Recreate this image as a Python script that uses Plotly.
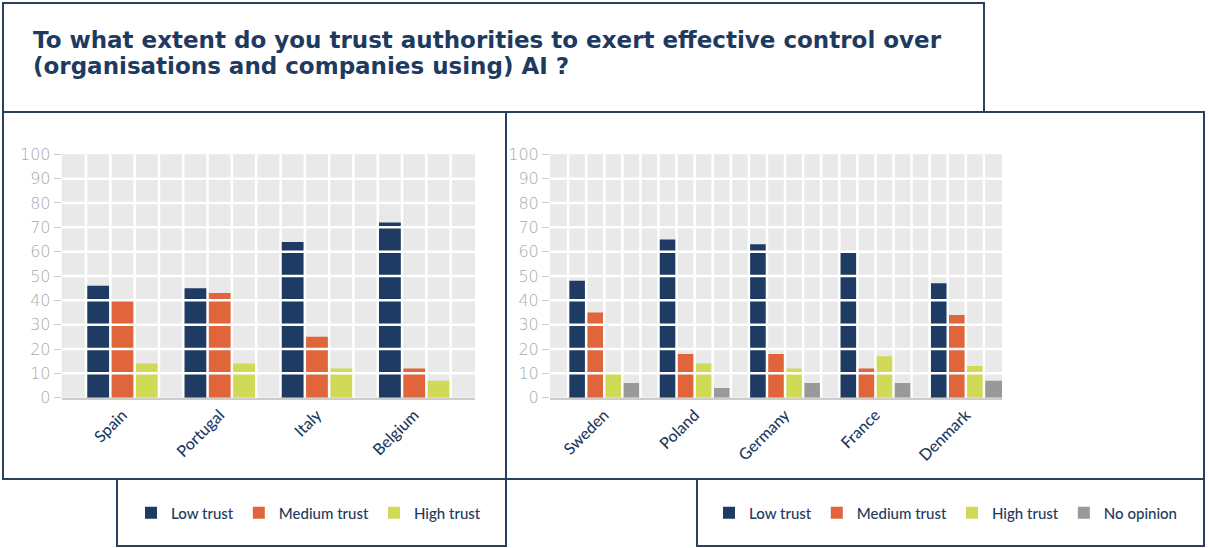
import plotly.graph_objects as go

W, H = 1209, 548

title_lines = [
    "To what extent do you trust authorities to exert effective control over",
    "(organisations and companies using) AI ?",
]

left_countries = ["Spain", "Portugal", "Italy", "Belgium"]
left_low = [46, 45, 64, 72]
left_medium = [40, 43, 25, 12]
left_high = [14, 14, 12, 7]

right_countries = ["Sweden", "Poland", "Germany", "France", "Denmark"]
right_low = [48, 65, 63, 60, 47]
right_medium = [35, 18, 18, 12, 34]
right_high = [10, 14, 12, 17, 13]
right_noop = [6, 4, 6, 6, 7]

series_names = ["Low trust", "Medium trust", "High trust", "No opinion"]
colors = ["#1d3b63", "#e1653a", "#d0da56", "#999999"]
y_ticks = [0, 10, 20, 30, 40, 50, 60, 70, 80, 90, 100]

NAVY = "#1e3a5f"
FONT = "Lato"


def px_x(p):
    return p / W


def px_y(p):
    return 1 - p / H


n1 = len(left_countries)
n2 = len(right_countries)
slots1 = n1 * 4 + 1   # 3 bars + 1 gap per country, plus a leading gap
slots2 = n2 * 5       # 4 bars + 1 gap per country

fig = go.Figure()

for i, (name, vals, col) in enumerate(zip(series_names[:3], [left_low, left_medium, left_high], colors[:3])):
    fig.add_trace(go.Bar(x=left_countries, y=vals, name=name,
                         marker=dict(color=col, line=dict(width=0)),
                         width=0.25, offset=-0.375 + 0.25 * i,
                         xaxis="x", yaxis="y", legend="legend"))
for i, (name, vals, col) in enumerate(zip(series_names, [right_low, right_medium, right_high, right_noop], colors)):
    fig.add_trace(go.Bar(x=right_countries, y=vals, name=name,
                         marker=dict(color=col, line=dict(width=0)),
                         width=0.2, offset=-0.4 + 0.2 * i,
                         xaxis="x2", yaxis="y2", legend="legend2"))

ydom = [px_y(397.7), px_y(154.3)]
xdom1 = [px_x(61.7), px_x(475)]
xdom2 = [px_x(550), px_x(1002)]

axis_common_y = dict(range=[0, 100], tickvals=y_ticks, showgrid=False, zeroline=False,
                     ticks="outside", ticklen=7, tickcolor="#cccccc", tickwidth=1,
                     tickfont=dict(family="DejaVu Sans", size=16, color="#aaaaaa", weight=300),
                     fixedrange=True, automargin=False)
axis_common_x = dict(type="category", showgrid=False, zeroline=False, showline=True,
                     linecolor="#cccccc", linewidth=1.5, ticks="", tickangle=-45,
                     tickfont=dict(family=FONT, size=16, color=NAVY, weight=500),
                     fixedrange=True, automargin=False)

fig.update_layout(
    width=W, height=H, autosize=False,
    margin=dict(l=0, r=0, t=0, b=0, pad=0, autoexpand=False),
    paper_bgcolor="white", plot_bgcolor="#e9e9e9",
    barmode="group", bargap=0.25, bargroupgap=0,
    xaxis=dict(domain=xdom1, range=[-0.625, n1 - 1 + 0.625], anchor="y", **axis_common_x),
    yaxis=dict(domain=ydom, anchor="x", **axis_common_y),
    xaxis2=dict(domain=xdom2, range=[-0.6, n2 - 1 + 0.4], anchor="y2", **axis_common_x),
    yaxis2=dict(domain=ydom, anchor="x2", **axis_common_y),
    legend=dict(orientation="h", x=px_x(131), y=px_y(513), xanchor="left", yanchor="middle",
                font=dict(family=FONT, size=15, color=NAVY, weight=500), bgcolor="rgba(0,0,0,0)"),
    legend2=dict(orientation="h", x=px_x(709), y=px_y(513), xanchor="left", yanchor="middle",
                 font=dict(family=FONT, size=15, color=NAVY, weight=500), bgcolor="rgba(0,0,0,0)"),
    showlegend=True,
)

shapes = []
WHITE = dict(color="white", width=2.5)
for axx, axy in [("x", "y"), ("x2", "y2")]:
    for t in y_ticks[1:-1]:
        shapes.append(dict(type="line", xref=f"{axx} domain", yref=axy, x0=0, x1=1, y0=t, y1=t,
                           line=WHITE, layer="above"))
for k in range(1, slots1):
    shapes.append(dict(type="line", xref="x domain", yref="y domain", x0=k / slots1, x1=k / slots1,
                       y0=0, y1=1, line=WHITE, layer="above"))
for k in range(1, slots2):
    shapes.append(dict(type="line", xref="x2 domain", yref="y2 domain", x0=k / slots2, x1=k / slots2,
                       y0=0, y1=1, line=WHITE, layer="above"))

BORDER = dict(color="#2b3f5e", width=2)
boxes = [
    (3, 3, 984, 112),      # title box
    (3, 112, 506, 479),    # left chart
    (506, 112, 1204, 479), # right chart
    (117, 479, 506, 546),  # left legend
    (697, 479, 1204, 546), # right legend
]
for x0, y0, x1, y1 in boxes:
    shapes.append(dict(type="rect", xref="paper", yref="paper", x0=px_x(x0), x1=px_x(x1),
                       y0=px_y(y1), y1=px_y(y0), line=BORDER, fillcolor="rgba(0,0,0,0)", layer="above"))

fig.update_layout(shapes=shapes)

for line, yc in zip(title_lines, [40, 66]):
    fig.add_annotation(text=line, xref="paper", yref="paper", x=px_x(31), y=px_y(yc),
                       xanchor="left", yanchor="middle", align="left", showarrow=False,
                       font=dict(family="DejaVu Sans", size=23, color=NAVY, weight="bold"))

fig.write_html("out.html")
